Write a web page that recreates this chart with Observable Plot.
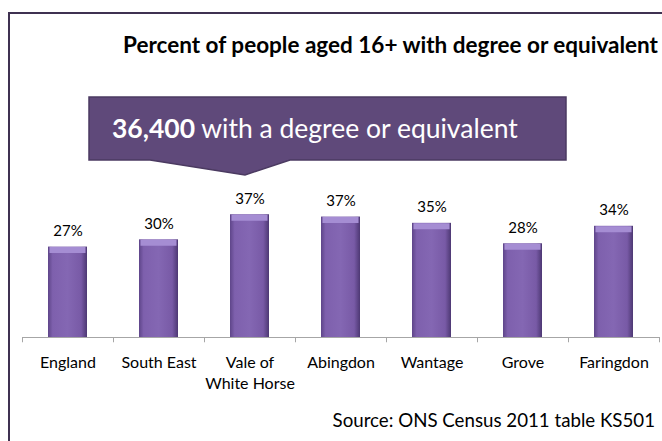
<!DOCTYPE html>
<html>
<head>
<meta charset="utf-8">
<script src="https://cdn.jsdelivr.net/npm/d3@7"></script>
<script src="https://cdn.jsdelivr.net/npm/@observablehq/plot@0.6"></script>
<style>
  html, body { margin: 0; padding: 0; background: #fff; overflow: hidden; }
  #wrap { position: relative; width: 662px; height: 441px; font-family: Lato, "Open Sans", sans-serif; color: #000; }
  #frame { position: absolute; left: 8px; top: 12px; width: 700px; height: 500px; border: 2px solid #3f3151; box-sizing: border-box; pointer-events: none; }
  #header { position: relative; width: 662px; height: 180px; }
  #title { position: absolute; right: 4px; top: 31px; font-weight: bold; font-size: 22.5px; white-space: nowrap; }
  #callout { position: absolute; left: 0; top: 0; }
  #source { position: absolute; right: 7px; top: 409px; font-size: 18.7px; white-space: nowrap; }
  #chart { position: absolute; left: 0; top: 180px; }
</style>
</head>
<body>
<div id="wrap">
  <div id="header">
    <div id="title">Percent of people aged 16+ with degree or equivalent</div>
    <svg id="callout" width="662" height="180">
      <path d="M89,97 H566 V160 H290 L245,175 L150,160 H89 Z" fill="#5f497a" stroke="#4b3a61" stroke-width="1.5"/>
      <text x="112" y="137.5" fill="#fff" font-size="26.5" font-family="Lato, 'Open Sans', sans-serif"><tspan font-weight="bold">36,400</tspan> with a degree or equivalent</text>
    </svg>
  </div>
  <div id="chart"></div>
  <div id="source">Source: ONS Census 2011 table KS501</div>
  <div id="frame"></div>
</div>
<script>
const areas = ["England", "South East", "Vale of White Horse", "Abingdon", "Wantage", "Grove", "Faringdon"];
const percents = [27.4, 29.6, 37.2, 36.5, 34.6, 28.4, 33.7];
const tickLabels = ["England", "South East", "Vale of\nWhite Horse", "Abingdon", "Wantage", "Grove", "Faringdon"];

const data = areas.map((a, i) => ({area: a, pct: percents[i]}));

const W = 662, H = 261, ML = 22, MR = 3;
const step = (W - ML - MR) / areas.length;

const defs = () => {
  const g = d3.create("svg:defs");
  const lg = g.append("linearGradient").attr("id", "barGrad").attr("x1", 0).attr("x2", 1).attr("y1", 0).attr("y2", 0);
  [["0%", "#5e4589"], ["12%", "#7e60ad"], ["50%", "#8467b3"], ["85%", "#785aa6"], ["100%", "#4d3873"]]
    .forEach(([o, c]) => lg.append("stop").attr("offset", o).attr("stop-color", c));
  return g.node();
};

const chart = Plot.plot({
  width: W,
  height: H,
  marginLeft: ML,
  marginRight: MR,
  marginTop: 25,
  marginBottom: 104,
  style: {fontFamily: "Lato, 'Open Sans', sans-serif", background: "transparent", color: "#000"},
  x: {domain: areas, paddingInner: 0.57, paddingOuter: 0.285, axis: null},
  y: {domain: [0, 40], axis: null},
  marks: [
    defs,
    Plot.barY(data, {x: "area", y: "pct", fill: "url(#barGrad)"}),
    Plot.tickY(data, {x: "area", y: "pct", stroke: "#a58dd3", strokeWidth: 6, dy: 3, inset: 1.5}),
    Plot.ruleY([0], {stroke: "#a6a6a6", strokeWidth: 1.2}),
    Plot.ruleX(areas, {x: d => d, y1: 0, y2: -1.6, dx: -step / 2, stroke: "#a6a6a6"}),
    Plot.ruleX([areas[areas.length - 1]], {x: d => d, y1: 0, y2: -1.6, dx: step / 2, stroke: "#a6a6a6"}),
    Plot.text(data, {x: "area", y: "pct", text: d => Math.round(d.pct) + "%", dy: -16, fontSize: 15, fill: "#000"}),
    Plot.axisX({label: null, tickSize: 0, tickPadding: 15, fontSize: 16, lineHeight: 1.35, tickFormat: d => tickLabels[areas.indexOf(d)], fill: "#000"})
  ]
});
document.getElementById("chart").appendChild(chart);
</script>
</body>
</html>
